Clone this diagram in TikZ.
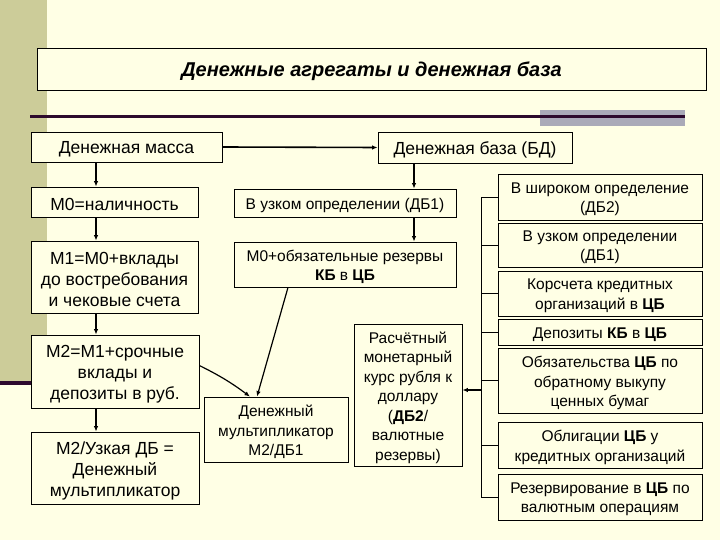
\documentclass[tikz,border=0pt]{standalone}
\usepackage{fontspec}
\setmainfont{Liberation Sans}
\usetikzlibrary{arrows.meta}
\definecolor{bg}{RGB}{255,255,229}
\definecolor{olivestrip}{RGB}{204,204,153}
\definecolor{darkline}{RGB}{45,10,45}
\definecolor{greyblock}{RGB}{170,170,184}
% \bx{name}{center}{width}{height}{text style}{text}
\newcommand\bx[6]{%
  \node[box, minimum width=#3bp, minimum height=#4bp] (#1) at (#2) {};
  \node[#5, align=center, inner sep=0pt] (#1-t) at ([yshift=-2.5bp]#1.center) {#6};}
\begin{document}
\begin{tikzpicture}[x=1bp,y=-1bp,
  box/.style={draw, line width=0.8bp, fill=bg, inner sep=0pt},
  big/.style={font=\fontsize{17.5bp}{21bp}\selectfont},
  small/.style={font=\fontsize{15.5bp}{19.5bp}\selectfont},
  ttl/.style={font=\fontsize{20bp}{24bp}\selectfont\bfseries\itshape},
  arr/.style={line width=1.6bp, -{Latex[length=5.5bp,width=4.5bp]}},
  thin/.style={line width=0.8bp}]
% background
\fill[bg] (0,0) rectangle (720,540);
\useasboundingbox (0,0) rectangle (720,540);
\fill[olivestrip] (0,0) rectangle (47,382);
\fill[darkline] (0,381) rectangle (47,385);
\fill[greyblock] (540,110) rectangle (685,126);
\fill[darkline] (30,115.5) rectangle (685,118.5);
% title
\bx{title}{371.5,69}{669}{42}{ttl}{Денежные агрегаты и денежная база}
% left column
\bx{dm}{126.5,147}{191}{30}{big}{Денежная масса}
\bx{db}{475,147.5}{194}{31}{big}{Денежная база (БД)}
\bx{m0}{114.5,202}{167}{30}{big}{M0=наличность}
\bx{m1}{114.5,277}{167}{72}{big}{M1=M0+вклады\\до востребования\\и чековые счета}
\bx{m2}{115,371.5}{168}{73}{big}{M2=M1+срочные\\вклады и\\депозиты в руб.}
\bx{m2db}{115,468}{168}{72}{big}{M2/Узкая ДБ =\\Денежный\\мультипликатор}
% middle column
\bx{nar}{345,203}{222}{28}{small}{В узком определении (ДБ1)}
\bx{m0r}{345,264.5}{222}{45}{small}{M0+обязательные резервы\\\textbf{КБ} в \textbf{ЦБ}}
\bx{mult}{276,429.5}{144}{65}{small}{Денежный\\мультипликатор\\M2/ДБ1}
\bx{rasch}{408,395}{108}{142}{small}{Расчётный\\монетарный\\курс рубля к\\доллару\\(\textbf{ДБ2}/\\валютные\\резервы)}
% right column
\bx{r1}{600,197}{204}{46}{small}{В широком определение\\(ДБ2)}
\bx{r2}{600,245}{204}{44}{small}{В узком определении\\(ДБ1)}
\bx{r3}{600,293.5}{204}{45}{small}{Корсчета кредитных\\организаций в \textbf{ЦБ}}
\bx{r4}{600,332}{204}{26}{small}{Депозиты \textbf{КБ} в \textbf{ЦБ}}
\bx{r5}{600,380.5}{204}{65}{small}{Обязательства \textbf{ЦБ} по\\обратному выкупу\\ценных бумаг}
\bx{r6}{600,445}{204}{46}{small}{Облигации \textbf{ЦБ} у\\кредитных организаций}
\bx{r7}{600,497}{204}{46}{small}{Резервирование в \textbf{ЦБ} по\\валютным операциям}
% helper coordinates
\coordinate (lx) at (96,0);
\coordinate (mx) at (414,0);
\coordinate (px) at (288,0);
\coordinate (qx) at (257,0);
\coordinate (sx) at (250,0);
\coordinate (brk) at (481,390);
% connectors
\draw[arr] (dm.east) -- (db.west);
\draw[arr] (dm.south -| lx) -- (m0.north -| lx);
\draw[arr] (m0.south -| lx) -- (m1.north -| lx);
\draw[arr] (m1.south -| lx) -- (m2.north -| lx);
\draw[arr] (m2.south -| lx) -- (m2db.north -| lx);
\draw[arr] (db.south -| mx) -- (nar.north -| mx);
\draw[arr] (nar.south -| mx) -- (m0r.north -| mx);
\draw[arr, line width=1.2bp] (m0r.south -| px) -- (mult.north -| qx);
\draw[arr, line width=1.2bp] ([yshift=6bp]m2.east) to[bend left=5] (mult.north -| sx);
% bracket
\draw[thin] (r1.west) -- (r1.west -| brk) -- (r7.west -| brk) -- (r7.west);
\draw[thin] (r2.west) -- (r2.west -| brk);
\draw[thin] (r3.west) -- (r3.west -| brk);
\draw[thin] (r4.west) -- (r4.west -| brk);
\draw[thin] (r5.west) -- (r5.west -| brk);
\draw[thin] (r6.west) -- (r6.west -| brk);
\draw[arr] (brk) -- (brk -| rasch.east);
\end{tikzpicture}
\end{document}
